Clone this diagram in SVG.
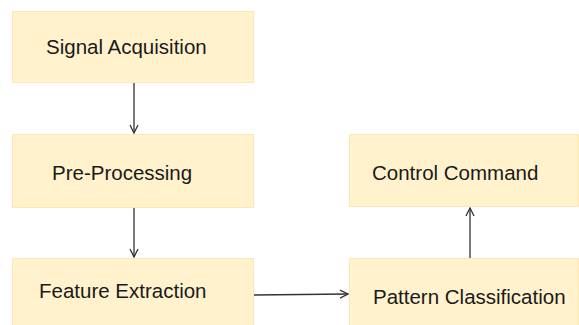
<svg xmlns="http://www.w3.org/2000/svg" width="579" height="325" viewBox="0 0 579 325">
<defs>
<style>
.box{fill:#FFF2CC;stroke:#FCE8B2;stroke-width:1}
.lbl{font-family:"Liberation Sans",Arial,sans-serif;font-size:20.5px;fill:#1a1a1a}
.con{stroke:#333333;stroke-width:1.3;fill:none}
</style>
<marker id="arr" viewBox="0 0 10 10" refX="9" refY="5" markerWidth="10" markerHeight="10" markerUnits="userSpaceOnUse" orient="auto">
<path d="M1,1 L9,5 L1,9" fill="none" stroke="#333333" stroke-width="1.3"/>
</marker>
</defs>
<rect width="579" height="325" fill="#ffffff"/>
<g id="connectors">
<line class="con" x1="134" y1="83" x2="134" y2="133" marker-end="url(#arr)"/>
<line class="con" x1="134" y1="208" x2="134" y2="257" marker-end="url(#arr)"/>
<line class="con" x1="254" y1="295" x2="348" y2="294" marker-end="url(#arr)"/>
<line class="con" x1="470" y1="258" x2="470" y2="208" marker-end="url(#arr)"/>
</g>
<g id="signal-acquisition">
<rect class="box" x="12.5" y="11.5" width="241" height="71"/>
<text class="lbl" x="46" y="54">Signal Acquisition</text>
</g>
<g id="pre-processing">
<rect class="box" x="12.5" y="134.5" width="241" height="73"/>
<text class="lbl" x="52" y="180">Pre-Processing</text>
</g>
<g id="feature-extraction">
<rect class="box" x="12.5" y="258.5" width="241" height="67"/>
<text class="lbl" x="39" y="298">Feature Extraction</text>
</g>
<g id="control-command">
<rect class="box" x="349.5" y="134.5" width="229" height="72"/>
<text class="lbl" x="372" y="180">Control Command</text>
</g>
<g id="pattern-classification">
<rect class="box" x="349.5" y="258.5" width="229" height="67"/>
<text class="lbl" x="373" y="304">Pattern Classification</text>
</g>
</svg>
